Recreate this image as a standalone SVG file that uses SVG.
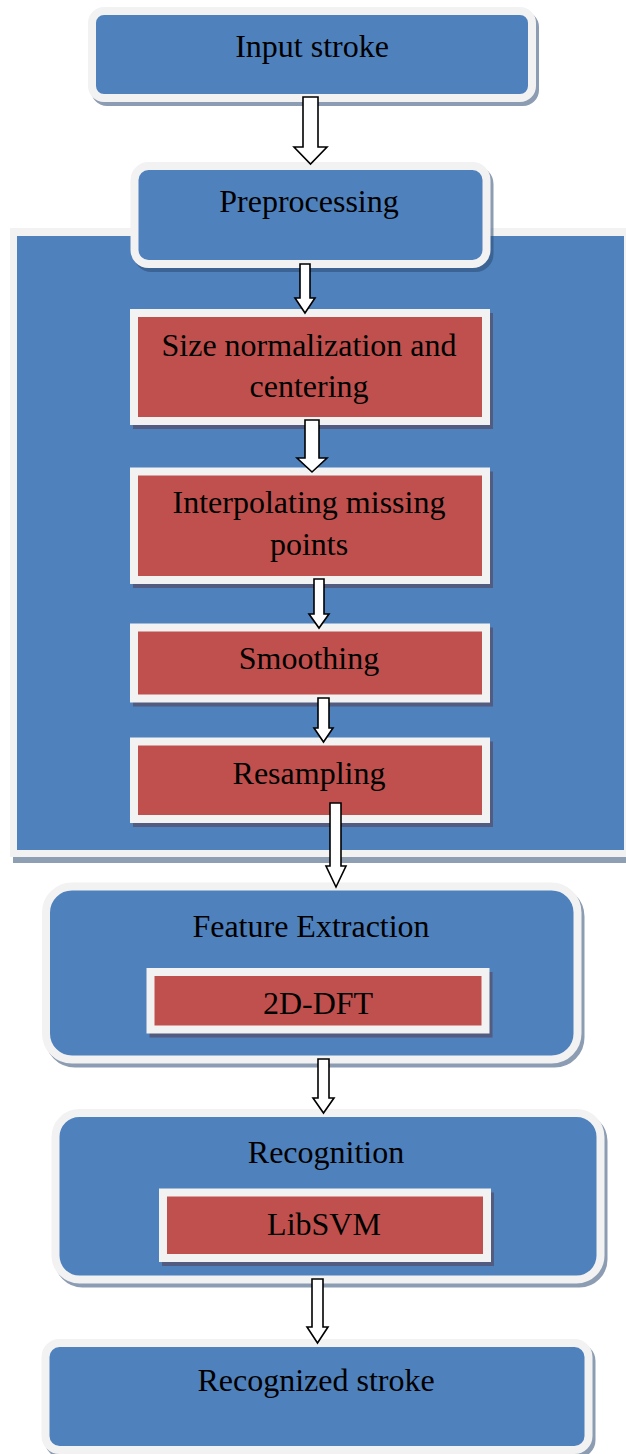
<svg xmlns="http://www.w3.org/2000/svg" width="626" height="1454" viewBox="0 0 626 1454">
  <style>
    .blue { fill: #4f81bd; stroke: #f2f2f2; stroke-width: 8; }
    .red { fill: #c0504d; stroke: #f2f2f2; stroke-width: 8; }
    .shadow { fill: #2c4a72; stroke: #2c4a72; stroke-width: 8; opacity: 0.54; }
    .rshadow { fill: #525b80; stroke: #525b80; stroke-width: 8; }
    .label { font-family: "Liberation Serif", "Times New Roman", serif; font-size: 32px; fill: #000; text-anchor: middle; }
    .arrow { fill: #ffffff; stroke: #000; stroke-width: 1.6; stroke-linejoin: miter; }
  </style>
  <rect width="626" height="1454" fill="#ffffff"/>

  <g id="input-stroke">
    <rect class="shadow" x="95" y="15" width="440" height="87" rx="12"/>
    <rect class="blue" x="92" y="11" width="440" height="87" rx="12"/>
    <text class="label" x="312" y="57">Input stroke</text>
  </g>

  <g id="preprocessing-panel">
    <rect x="13" y="234" width="630" height="629" fill="#8e9fb3"/>
    <rect x="10" y="228" width="630" height="629" fill="#f2f2f2"/>
    <rect x="17" y="236" width="607" height="614" fill="#4f81bd"/>
  </g>

  <g id="preprocessing">
    <rect class="shadow" x="137.5" y="170" width="352" height="98" rx="14"/>
    <rect class="blue" x="134.5" y="166" width="352" height="98" rx="14"/>
    <text class="label" x="309" y="212">Preprocessing</text>
  </g>

  <g id="size-normalization">
    <rect class="rshadow" x="137" y="317" width="352" height="108"/>
    <rect class="red" x="134" y="313" width="352" height="108"/>
    <text class="label" x="309" y="356">Size normalization and</text>
    <text class="label" x="309" y="397">centering</text>
  </g>

  <g id="interpolating">
    <rect class="rshadow" x="137" y="475.5" width="352" height="108.5"/>
    <rect class="red" x="134" y="471.5" width="352" height="108.5"/>
    <text class="label" x="309" y="513">Interpolating missing</text>
    <text class="label" x="309" y="555">points</text>
  </g>

  <g id="smoothing">
    <rect class="rshadow" x="137" y="631.5" width="352" height="71"/>
    <rect class="red" x="134" y="627.5" width="352" height="71"/>
    <text class="label" x="309" y="669">Smoothing</text>
  </g>

  <g id="resampling">
    <rect class="rshadow" x="137" y="745.5" width="352" height="77.5"/>
    <rect class="red" x="134" y="741.5" width="352" height="77.5"/>
    <text class="label" x="309" y="784">Resampling</text>
  </g>

  <g id="feature-extraction">
    <rect class="shadow" x="49" y="890.5" width="531.5" height="173" rx="26"/>
    <rect class="blue" x="46" y="886.5" width="531.5" height="173" rx="26"/>
    <text class="label" x="311" y="937">Feature Extraction</text>
    <rect class="rshadow" x="153.5" y="976" width="335" height="57.5"/>
    <rect class="red" x="150.5" y="972" width="335" height="57.5"/>
    <text class="label" x="318" y="1014">2D-DFT</text>
  </g>

  <g id="recognition">
    <rect class="shadow" x="58.5" y="1117" width="545" height="166.5" rx="24"/>
    <rect class="blue" x="55.5" y="1113" width="545" height="166.5" rx="24"/>
    <text class="label" x="326" y="1163">Recognition</text>
    <rect class="rshadow" x="166" y="1196.5" width="324" height="65.5"/>
    <rect class="red" x="163" y="1192.5" width="324" height="65.5"/>
    <text class="label" x="324" y="1235">LibSVM</text>
  </g>

  <g id="recognized-stroke">
    <rect class="shadow" x="48.5" y="1347" width="543" height="107" rx="14"/>
    <rect class="blue" x="45.5" y="1343" width="543" height="107" rx="14"/>
    <text class="label" x="316" y="1391">Recognized stroke</text>
  </g>

  <g id="connectors">
    <path class="arrow" d="M303,97 H318 V147 H327 L310.5,164 L294,147 H303 Z"/>
    <path class="arrow" d="M300,264 H310 V298 H315 L305,313 L295,298 H300 Z"/>
    <path class="arrow" d="M305,420 H319 V458 H327 L312,472 L297,458 H305 Z"/>
    <path class="arrow" d="M314,579 H324 V614 H329 L319,628 L309,614 H314 Z"/>
    <path class="arrow" d="M318,698 H329 V728 H333 L323.5,742 L314,728 H318 Z"/>
    <path class="arrow" d="M330,803 H341 V866 H346 L336,887 L326,866 H330 Z"/>
    <path class="arrow" d="M318,1059 H329 V1098 H334 L323.5,1113 L313,1098 H318 Z"/>
    <path class="arrow" d="M312,1279 H323 V1327 H328 L317.5,1343 L307,1327 H312 Z"/>
  </g>
</svg>
